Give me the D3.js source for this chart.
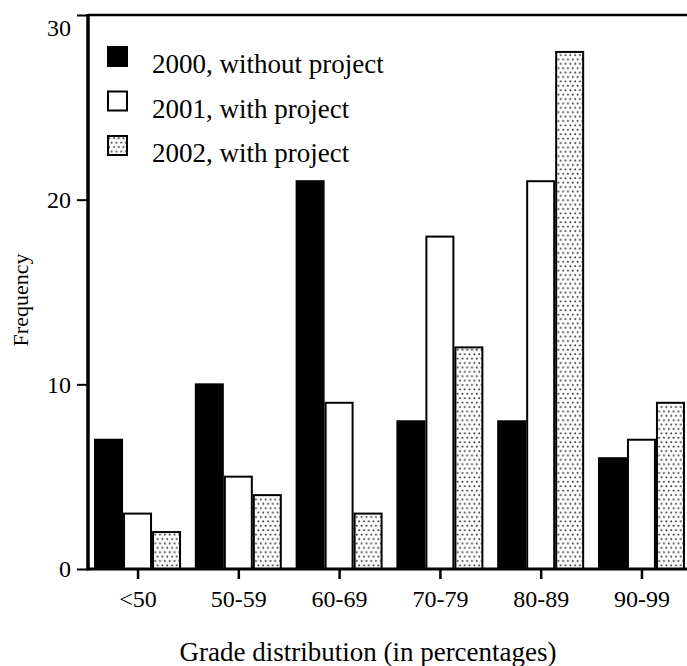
<!DOCTYPE html>
<html>
<head>
<meta charset="utf-8">
<script src="https://cdn.jsdelivr.net/npm/d3@7"></script>
<style>
  html, body { margin: 0; padding: 0; background: #fff; }
  svg { display: block; }
  text { font-family: "Liberation Serif", "Times New Roman", serif; fill: #000; }
</style>
</head>
<body>
<svg id="chart" width="687" height="666"></svg>
<script>
const categories = ["<50", "50-59", "60-69", "70-79", "80-89", "90-99"];
const seriesNames = ["2000, without project", "2001, with project", "2002, with project"];
const values2000 = [7, 10, 21, 8, 8, 6];
const values2001 = [3, 5, 9, 18, 21, 7];
const values2002 = [2, 4, 3, 12, 28, 9];
const yTicks = [0, 10, 20, 30];

const seriesValues = [values2000, values2001, values2002];
const data = categories.map((c, i) => ({
  cat: c,
  vals: seriesNames.map((s, k) => ({ series: s, k: k, value: seriesValues[k][i] }))
}));

const svg = d3.select("#chart");
const W = 687, H = 666;
const mLeft = 88, mTop = 15, mBottom = 569;

const defs = svg.append("defs");
const pat = defs.append("pattern")
  .attr("id", "dots").attr("patternUnits", "userSpaceOnUse")
  .attr("width", 4.8).attr("height", 8.8);
pat.append("rect").attr("width", 4.8).attr("height", 8.8).attr("fill", "#fff");
pat.append("circle").attr("cx", 1.2).attr("cy", 2.2).attr("r", 1.0).attr("fill", "#333");
pat.append("circle").attr("cx", 3.6).attr("cy", 6.6).attr("r", 1.0).attr("fill", "#333");

const fills = ["#000", "#fff", "url(#dots)"];

const y = d3.scaleLinear().domain([0, 30]).range([mBottom, mTop]);
const x0 = d3.scaleBand().domain(categories).range([mLeft, 691])
  .paddingInner(0.137).paddingOuter(0.06);
const x1 = d3.scaleBand().domain(seriesNames).range([0, x0.bandwidth()]).padding(0);

// bars
const groups = svg.append("g").selectAll("g").data(data).join("g")
  .attr("transform", d => `translate(${x0(d.cat)},0)`);

// white halo
groups.selectAll("rect.halo").data(d => d.vals).join("rect")
  .attr("class", "halo")
  .attr("x", d => x1(d.series) + 1)
  .attr("y", d => y(d.value))
  .attr("width", x1.bandwidth() - 2)
  .attr("height", d => y(0) - y(d.value))
  .attr("fill", "none").attr("stroke", "#fff").attr("stroke-width", 4.5);

groups.selectAll("rect.bar").data(d => d.vals).join("rect")
  .attr("class", "bar")
  .attr("x", d => x1(d.series) + 1)
  .attr("y", d => y(d.value))
  .attr("width", x1.bandwidth() - 2)
  .attr("height", d => y(0) - y(d.value))
  .attr("fill", d => fills[d.k])
  .attr("stroke", "#000").attr("stroke-width", 2);

// top frame line
svg.append("line").attr("x1", mLeft).attr("x2", W).attr("y1", y(30)).attr("y2", y(30))
  .attr("stroke", "#000").attr("stroke-width", 2.5);

// baseline
svg.append("line").attr("x1", mLeft).attr("x2", W).attr("y1", y(0)).attr("y2", y(0))
  .attr("stroke", "#000").attr("stroke-width", 3);

// y axis
const yAxis = d3.axisLeft(y).tickValues(yTicks).tickSize(11).tickPadding(6);
const gy = svg.append("g").attr("transform", `translate(${mLeft},0)`).call(yAxis);
gy.select(".domain").attr("stroke", "#000").attr("stroke-width", 3.5)
  .attr("d", `M0,${y(30) - 1}V${y(0) + 1.5}`);
gy.selectAll(".tick line").attr("stroke", "#000").attr("stroke-width", 2);
gy.selectAll(".tick text").attr("font-size", 24)
  .attr("font-family", '"Liberation Serif", "Times New Roman", serif')
  .attr("dy", d => d === 30 ? "0.85em" : "0.32em");

// x axis ticks at group center
const xAxis = d3.axisBottom(d3.scalePoint().domain(categories)
  .range([x0(categories[0]) + x0.bandwidth() / 2, x0(categories[categories.length - 1]) + x0.bandwidth() / 2]))
  .tickSize(9).tickPadding(11);
const gx = svg.append("g").attr("transform", `translate(0,${y(0) + 1})`).call(xAxis);
gx.select(".domain").remove();
gx.selectAll(".tick line").attr("stroke", "#000").attr("stroke-width", 2.5);
gx.selectAll(".tick text").attr("font-size", 24)
  .attr("font-family", '"Liberation Serif", "Times New Roman", serif');

// axis titles
svg.append("text").attr("x", 368).attr("y", 661).attr("text-anchor", "middle")
  .attr("font-size", 27).text("Grade distribution (in percentages)");
svg.append("text").attr("transform", "translate(28,300) rotate(-90)")
  .attr("text-anchor", "middle").attr("font-size", 22).text("Frequency");

// legend
const lg = svg.append("g").selectAll("g").data(seriesNames).join("g")
  .attr("transform", (d, i) => `translate(108,${47 + i * 44.5})`);
lg.append("rect").attr("width", 19).attr("height", 19)
  .attr("fill", (d, i) => fills[i]).attr("stroke", "#000").attr("stroke-width", 2);
lg.append("text").attr("x", 44).attr("y", 26).attr("font-size", 27).text(d => d);
</script>
</body>
</html>
